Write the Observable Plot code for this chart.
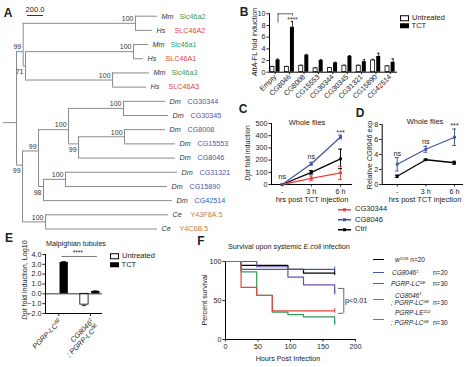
<!DOCTYPE html>
<html><head><meta charset="utf-8">
<script src="https://cdn.jsdelivr.net/npm/d3@7"></script>
<script src="https://cdn.jsdelivr.net/npm/@observablehq/plot@0.6"></script>
<style>
body{margin:0;background:#fff;}
#fig{position:relative;width:474px;height:367px;overflow:hidden;font-family:"Liberation Sans",Arial,Helvetica,sans-serif;color:#222;background:#fff;}
#fig sup{font-size:65%;vertical-align:0;position:relative;top:-0.5em;}
</style></head><body><div id="fig"></div>
<script>
// ---------------- DATA ----------------
// Panel A: phylogenetic tree
const leafGenes   = ["Slc46a2","SLC46A2","Slc46a1","SLC46A1","Slc46a3","SLC46A3","CG30344","CG30345","CG8008","CG15553","CG8046","CG31321","CG15890","CG42514","Y43F8A.5","Y4C6B.5"];
const leafSpecies = ["Mm","Hs","Mm","Hs","Mm","Hs","Dm","Dm","Dm","Dm","Dm","Dm","Dm","Dm","Ce","Ce"];
const leafParent  = ["A2","A2","A1","A1","A3","A3","P","P","Q","Q","R","T","T","U","X","X"];
const leafDepth   = [1900,1838,1788,1725,1800,1763,2000,2038,2000,2125,2125,2150,2025,2088,2038,1900];
const nodeIds     = ["root","SLC","A2","A13","A1","A3","W","V","S","P","R","Q","U","T","X"];
const nodeParent  = [null,"root","SLC","SLC","A13","A13","root","W","V","S","S","R","V","U","W"];
const nodeDepth   = [138,221,1625,250,1600,1338,213,413,788,1475,913,1488,475,750,500];
const nodeBoot    = ["","99","100","71","100","100","99","99","100","100","99","100","98","100","100"];
const bootBelow   = ["A13","R","U","W"];
const scaleBarLength = 200;

// Panel B
const bGroups = ["Empty","CG8046","CG8008","CG15553","CG30344","CG30345","CG31321","CG15890","CG42514"];
const bUntreated    = [0.9,0.9,1.1,0.65,0.7,1.1,1.1,2.0,1.0];
const bUntreatedErr = [0.1,0.1,0.1,0.1,0.1,0.1,0.1,0.2,0.1];
const bTCT          = [2.1,7.7,2.9,2.0,1.6,2.7,1.8,2.7,1.7];
const bTCTErr       = [0.15,1.0,0.15,0.15,0.1,0.15,0.35,0.55,0.6];

// Panel C
const cTimes = [0,3,6];
const cTimeLabels = ["-","3 h","6 h"];
const cCG30344 = [0,50,95],   cCG30344Err = [0,20,55];
const cCG8046  = [0,170,390], cCG8046Err  = [0,12,15];
const cCtrl    = [0,100,210], cCtrlErr    = [0,15,80];
const cSig = ["ns","ns","***"], cSigLevel = [62,232,422];

// Panel D
const dCG8046 = [2.7,4.7,6.3], dCG8046Err = [0.9,0.4,1.1];
const dCtrl   = [1.1,3.3,2.9], dCtrlErr   = [0.15,0.08,0.2];
const dSig = ["ns","ns","***"], dSigLevel = [4.1,5.7,7.9];

// Panel E
const eGroups = ["PGRP-LC{ΔE}","CG8046{1}\n; PGRP-LC{ΔE}"];
const eUntreated = [0.0,-1.1], eUntreatedErr = [0,0.1];
const eTCT = [3.2,0.25], eTCTErr = [0.08,0.05];

// Panel F
const fHoursW1118 = [0,24,96,120,168],        fSurvW1118 = [100,95,90,85,85];
const fHoursCG8046 = [0,24,168],              fSurvCG8046 = [100,90,90];
const fHoursLC = [0,48,96,120,168],           fSurvLC = [100,93.3,80,70,60];
const fHoursDouble = [0,24,48,72,168],        fSurvDouble = [100,66.7,56.7,36.7,36.7];
const fHoursLE = [0,24,48,72,96,120,168],     fSurvLE = [100,86.7,56.7,35,32,29,21];

// ---------------- HELPERS ----------------
const FONT = '"Liberation Sans", Arial, Helvetica, sans-serif';
const fig = document.getElementById("fig");
const BLUE = "#4357a8", RED = "#e8453c", GREEN = "#2f9e5f", PURPLE = "#6a50a6", ORANGE = "#c97b3c";
function mk(opts, left, top) {
  const svg = Plot.plot({...opts, style: {fontFamily: FONT, fontSize: "7.2px", background: "transparent", color: "#222", overflow: "visible"}});
  svg.style.position = "absolute"; svg.style.left = left + "px"; svg.style.top = top + "px";
  svg.style.maxWidth = "none";
  fig.appendChild(svg);
  supify(svg);
  return svg;
}
function txt(h, x, y, o = {}) {
  const {size = 7.2, anchor = "start", rotate = 0, weight = "normal", extra = ""} = o;
  const d = document.createElement("div");
  d.innerHTML = h;
  d.style.cssText = `position:absolute;left:${x}px;top:${y}px;font-size:${size}px;line-height:1;white-space:nowrap;font-weight:${weight};${extra}`;
  const tx = anchor === "start" ? "0" : anchor === "middle" ? "-50%" : "-100%";
  d.style.transform = `translate(${tx},-50%)` + (rotate ? ` rotate(${rotate}deg)` : "");
  fig.appendChild(d);
  return d;
}
function supify(root) {
  root.querySelectorAll("text, tspan").forEach(el => {
    if (el.children.length) return;
    const s = el.textContent;
    if (!s.includes("{")) return;
    el.textContent = "";
    s.split(/(\{[^}]*\})/).forEach(part => {
      if (!part) return;
      if (part[0] === "{") {
        const t = document.createElementNS("http://www.w3.org/2000/svg", "tspan");
        t.setAttribute("baseline-shift", "super");
        t.setAttribute("font-size", "70%");
        t.textContent = part.slice(1, -1);
        el.appendChild(t);
      } else el.appendChild(document.createTextNode(part));
    });
  });
}

// ---------------- PANEL A ----------------
{
  const nodes = new Map(nodeIds.map((id, k) => [id, {id, parent: nodeParent[k], depth: nodeDepth[k], boot: nodeBoot[k], kids: []}]));
  const leaves = leafGenes.map((g, i) => ({gene: g, sp: leafSpecies[i], depth: leafDepth[i], i, leaf: true}));
  leaves.forEach((l, i) => nodes.get(leafParent[i]).kids.push(l));
  nodeIds.forEach(id => { const n = nodes.get(id); if (n.parent) nodes.get(n.parent).kids.push(n); });
  function leafIdx(n) { return n.leaf ? [n.i] : n.kids.flatMap(leafIdx); }
  for (const n of nodes.values()) n.y = d3.mean(leafIdx(n));
  leaves.forEach(l => l.y = l.i);
  const hsegs = [], vsegs = [];
  for (const n of nodes.values()) {
    for (const c of n.kids) hsegs.push({x1: n.depth, x2: c.depth, y: c.y});
    vsegs.push({x: n.depth, y1: d3.min(n.kids, c => c.y), y2: d3.max(n.kids, c => c.y)});
  }
  const root = nodes.get("root");
  hsegs.push({x1: -25, x2: root.depth, y: root.y});
  const boots = [...nodes.values()].filter(n => n.boot);
  const colorOf = {Mm: GREEN, Hs: RED, Dm: BLUE, Ce: ORANGE};
  const xDomain = [-25, 2912.5], xRange = [3, 238];
  mk({
    width: 240, height: 240, margin: 0,
    x: {domain: xDomain, range: xRange, axis: null},
    y: {domain: [0, 15], range: [15.7, 228.5], axis: null},
    marks: [
      Plot.ruleY(hsegs, {x1: "x1", x2: "x2", y: "y", stroke: "#8a8a8a", strokeWidth: 1}),
      Plot.ruleX(vsegs, {x: "x", y1: "y1", y2: "y2", stroke: "#8a8a8a", strokeWidth: 1}),
      Plot.text(leaves, {x: "depth", y: "y", text: "sp", dx: 4, textAnchor: "start", fontStyle: "italic", fill: "#333", fontSize: 7.2}),
      ...Object.keys(colorOf).map(sp => Plot.text(leaves.filter(l => l.sp === sp), {x: "depth", y: "y", text: "gene", dx: 22, textAnchor: "start", fill: colorOf[sp], fontSize: 7.2})),
      Plot.text(boots.filter(n => !bootBelow.includes(n.id)), {x: "depth", y: "y", text: "boot", dx: -2, dy: -4.5, textAnchor: "end", fill: "#333", fontSize: 7}),
      Plot.text(boots.filter(n => bootBelow.includes(n.id)), {x: "depth", y: "y", text: "boot", dx: -2, dy: 6, textAnchor: "end", fill: "#333", fontSize: 7})
    ]
  }, 0, 0);
  const pxPerUnit = (xRange[1] - xRange[0]) / (xDomain[1] - xDomain[0]);
  const barLen = scaleBarLength * pxPerUnit;
  txt(scaleBarLength.toFixed(1), 35, 9.5, {size: 7.5, anchor: "middle"});
  const bar = document.createElement("div");
  bar.style.cssText = `position:absolute;left:${35 - barLen / 2}px;top:15px;width:${barLen}px;height:0;border-top:1px solid #333;`;
  fig.appendChild(bar);
}

// ---------------- PANEL B ----------------
{
  const data = bGroups.flatMap((g, i) => [
    {i, t: "U", v: bUntreated[i], e: bUntreatedErr[i], c: i - 0.194},
    {i, t: "T", v: bTCT[i], e: bTCTErr[i], c: i + 0.194}
  ]);
  const hw = 0.139;
  mk({
    width: 234, height: 100, marginLeft: 29, marginRight: 77, marginTop: 13.3, marginBottom: 28.3,
    x: {domain: [-0.4, 8.5], ticks: d3.range(bGroups.length), tickFormat: i => bGroups[i], tickRotate: -45, tickSize: 2.5, tickPadding: 1, label: null},
    y: {domain: [0, 10], ticks: [0, 2, 4, 6, 8, 10], tickSize: 2.5, tickPadding: 1.5, label: null},
    marks: [
      Plot.ruleX(data, {x: "c", y1: "v", y2: d => d.v + d.e, stroke: "#000", strokeWidth: 0.8}),
      Plot.ruleY(data, {y: d => d.v + d.e, x1: d => d.c - 0.08, x2: d => d.c + 0.08, stroke: "#000", strokeWidth: 0.8}),
      Plot.rectY(data.filter(d => d.t === "U"), {x1: d => d.c - hw, x2: d => d.c + hw, y1: 0, y2: "v", fill: "white", stroke: "#000", strokeWidth: 0.8}),
      Plot.rectY(data.filter(d => d.t === "T"), {x1: d => d.c - hw, x2: d => d.c + hw, y1: 0, y2: "v", fill: "#000"}),
      Plot.ruleY([0], {stroke: "#000"}),
      Plot.ruleX([-0.4], {y1: 0, y2: 10, stroke: "#000"}),
      // significance bracket Empty vs CG8046
      Plot.ruleY([10], {x1: 0.194, x2: 1.194, stroke: "#222", strokeWidth: 0.7}),
      Plot.ruleX([0.194], {y1: 8.4, y2: 10, stroke: "#222", strokeWidth: 0.7}),
      Plot.ruleX([1.194], {y1: 9.6, y2: 10, stroke: "#222", strokeWidth: 0.7}),
      Plot.text(["****"], {x: 1.194, y: 9.0, text: d => d, fontSize: 6.5})
    ]
  }, 240, 0);
  txt("<i>AttA</i>-FL fold induction", 255, 42, {anchor: "middle", rotate: -90, size: 7.2});
  txt(`<span style="display:inline-block;width:7px;height:4px;border:0.8px solid #000;background:#fff;vertical-align:middle;margin-right:3px"></span>Untreated`, 400, 17.5, {size: 7.5});
  txt(`<span style="display:inline-block;width:8.6px;height:5.6px;background:#000;vertical-align:middle;margin-right:3px"></span>TCT`, 400, 25.5, {size: 7.5});
}

// ---------------- PANEL C ----------------
function timeCourse(series, {domain, yDomain, yTicks, sig, sigLevel, margins, left, top, width}) {
  const rows = series.flatMap(s => cTimes.map((t, k) => ({name: s.name, color: s.color, t, v: s.v[k], e: s.e[k]})));
  return mk({
    width, height: 100, ...margins,
    x: {domain, ticks: cTimes, tickFormat: t => cTimeLabels[cTimes.indexOf(t)], tickSize: 2.5, tickPadding: 2, label: null},
    y: {domain: yDomain, ticks: yTicks, tickSize: 2.5, tickPadding: 1.5, label: null},
    marks: [
      Plot.ruleY([yDomain[0]], {stroke: "#000"}),
      Plot.ruleX([domain[0]], {y1: yDomain[0], y2: yDomain[1], stroke: "#000"}),
      ...series.map(s => Plot.ruleX(rows.filter(r => r.name === s.name && r.e > 0), {x: "t", y1: d => d.v - d.e, y2: d => d.v + d.e, stroke: s.color, strokeWidth: 1})),
      ...series.map(s => Plot.ruleY(rows.filter(r => r.name === s.name && r.e > 0), {y: d => d.v + d.e, x1: d => d.t - 0.2, x2: d => d.t + 0.2, stroke: s.color, strokeWidth: 1})),
      ...series.map(s => Plot.ruleY(rows.filter(r => r.name === s.name && r.e > 0), {y: d => d.v - d.e, x1: d => d.t - 0.2, x2: d => d.t + 0.2, stroke: s.color, strokeWidth: 1})),
      ...series.map(s => Plot.line(rows.filter(r => r.name === s.name), {x: "t", y: "v", stroke: s.color, strokeWidth: 1.3})),
      ...series.map(s => Plot.dot(rows.filter(r => r.name === s.name), {x: "t", y: "v", fill: s.color, r: 1.6, symbol: "square"})),
      Plot.text(cTimes, {x: d => d, y: (d, k) => sigLevel[k], text: (d, k) => sig[k], fontSize: 7.2, fill: "#222"})
    ]
  }, left, top);
}
timeCourse([
  {name: "Ctrl", color: "#000", v: cCtrl, e: cCtrlErr},
  {name: "CG30344", color: RED, v: cCG30344, e: cCG30344Err},
  {name: "CG8046", color: BLUE, v: cCG8046, e: cCG8046Err}
], {domain: [-1.1, 7.23], yDomain: [0, 500], yTicks: [0, 100, 200, 300, 400, 500], sig: cSig, sigLevel: cSigLevel,
    margins: {marginLeft: 31, marginRight: 8, marginTop: 23, marginBottom: 16}, left: 240, top: 100, width: 120});
txt("Whole flies", 307, 123, {anchor: "middle", size: 7.5});
txt("<i>Dpt</i> fold induction", 248, 153, {anchor: "middle", rotate: -90, size: 7.2});
txt("hrs post TCT injection", 312, 200, {anchor: "middle", size: 7.5});
// legend C
[["CG30344", RED, 209.3], ["CG8046", BLUE, 219.7], ["Ctrl", "#000", 229.3]].forEach(([name, col, y]) => {
  txt(`<svg width="13" height="5" style="vertical-align:middle;margin-right:4px"><line x1="0" x2="13" y1="2.5" y2="2.5" stroke="${col}" stroke-width="1.3"/><rect x="5" y="1" width="3" height="3" fill="${col}"/></svg>${name}`, 338, y, {size: 7.5});
});

// ---------------- PANEL D ----------------
timeCourse([
  {name: "Ctrl", color: "#000", v: dCtrl, e: dCtrlErr},
  {name: "CG8046", color: BLUE, v: dCG8046, e: dCG8046Err}
], {domain: [-1.57, 6.94], yDomain: [0, 8], yTicks: [0, 2, 4, 6, 8], sig: dSig, sigLevel: dSigLevel,
    margins: {marginLeft: 31.7, marginRight: 11, marginTop: 24, marginBottom: 16}, left: 350, top: 100, width: 124});
txt("Whole flies", 425, 122, {anchor: "middle", size: 7.5});
txt("Relative <i>CG8046</i> exp", 370, 155, {anchor: "middle", rotate: -90, size: 7.2});
txt("hrs post TCT injection", 425, 200, {anchor: "middle", size: 7.5});

// ---------------- PANEL E ----------------
{
  const data = eGroups.flatMap((g, i) => [
    {i, t: "U", v: eUntreated[i], e: eUntreatedErr[i], c: i - 0.19},
    {i, t: "T", v: eTCT[i], e: eTCTErr[i], c: i + 0.17}
  ]);
  const hw = 0.131;
  mk({
    width: 150, height: 127, marginLeft: 45, marginRight: 48, marginTop: 14, marginBottom: 54,
    x: {domain: [-0.42, 1.38], ticks: [0, 1], tickFormat: () => "", tickSize: 3, label: null},
    y: {domain: [-2, 4], ticks: [-2, -1, 0, 1, 2, 3, 4], tickSize: 2.5, tickPadding: 1.5, label: null},
    marks: [
      Plot.ruleX(data.filter(d => d.e > 0), {x: "c", y1: "v", y2: d => d.v + Math.sign(d.v) * d.e, stroke: "#000", strokeWidth: 0.8}),
      Plot.ruleY(data.filter(d => d.e > 0), {y: d => d.v + Math.sign(d.v) * d.e, x1: d => d.c - 0.07, x2: d => d.c + 0.07, stroke: "#000", strokeWidth: 0.8}),
      Plot.rectY(data.filter(d => d.t === "U"), {x1: d => d.c - hw, x2: d => d.c + hw, y1: 0, y2: "v", fill: "white", stroke: "#000", strokeWidth: 0.8}),
      Plot.rectY(data.filter(d => d.t === "T"), {x1: d => d.c - hw, x2: d => d.c + hw, y1: 0, y2: "v", fill: "#000"}),
      Plot.ruleY([0], {stroke: "#000", strokeWidth: 0.8}),
      Plot.ruleY([-2], {stroke: "#000"}),
      Plot.ruleX([-0.42], {y1: -2, y2: 4, stroke: "#000"}),
      Plot.ruleY([3.8], {x1: 0.1, x2: 1.22, stroke: "#555", strokeWidth: 0.8}),
      Plot.text(["****"], {x: 0.6, y: 4.15, text: d => d, fontSize: 6.5}),
      Plot.text(eGroups, {x: (d, i) => i, y: -2, text: d => d, dy: 4.5, rotate: -45, textAnchor: "end", lineAnchor: "top", fontStyle: "italic", fontSize: 7.2, lineHeight: 1.05})
    ]
  }, 0, 240);
  txt("Malpighian tubules", 76, 244, {anchor: "middle", size: 7.2});
  txt("<i>Dpt</i> fold induction, Log10", 25, 280, {anchor: "middle", rotate: -90, size: 7.2});
  txt(`<span style="display:inline-block;width:7px;height:4px;border:0.8px solid #000;background:#fff;vertical-align:middle;margin-right:3px"></span>Untreated`, 110, 255.5, {size: 7.5});
  txt(`<span style="display:inline-block;width:8.6px;height:5.6px;background:#000;vertical-align:middle;margin-right:3px"></span>TCT`, 110, 264.5, {size: 7.5});
}

// ---------------- PANEL F ----------------
{
  const series = [
    {name: "w1118", color: "#000", h: fHoursW1118, s: fSurvW1118},
    {name: "CG8046", color: BLUE, h: fHoursCG8046, s: fSurvCG8046},
    {name: "LC", color: PURPLE, h: fHoursLC, s: fSurvLC},
    {name: "LE;LC", color: GREEN, h: fHoursLE, s: fSurvLE},
    {name: "CG8046;LC", color: RED, h: fHoursDouble, s: fSurvDouble}
  ];
  const rows = s => s.h.map((h, k) => ({h, s: s.s[k]}));
  const ends = series.map(s => ({color: s.color, h: s.h[s.h.length - 1], s: s.s[s.s.length - 1]}));
  mk({
    width: 220, height: 117, marginLeft: 75, marginRight: 15, marginTop: 11, marginBottom: 28,
    x: {domain: [0, 200], ticks: [0, 50, 100, 150, 200], tickSize: 2.5, tickPadding: 2, label: null},
    y: {domain: [0, 100], ticks: [0, 50, 100], tickSize: 2.5, tickPadding: 1.5, label: null},
    marks: [
      Plot.ruleY([0], {stroke: "#000"}),
      Plot.ruleX([0], {y1: 0, y2: 100, stroke: "#000"}),
      ...series.map(s => Plot.line(rows(s), {x: "h", y: "s", stroke: s.color, strokeWidth: 1.2, curve: "step-after"})),
      ...ends.map(e => Plot.ruleX([e], {x: "h", y1: d => d.s - 3, y2: d => d.s + 3, stroke: e.color, strokeWidth: 1})),
      Plot.ruleY([65.5, 33.6], {x1: 174, x2: 182, stroke: "#222", strokeWidth: 0.7}),
      Plot.ruleX([182], {y1: 33.6, y2: 65.5, stroke: "#222", strokeWidth: 0.7}),
      Plot.text(["p<0.01"], {x: 184, y: 50, text: d => d, textAnchor: "start", fontSize: 7.2})
    ]
  }, 150, 250);
  txt("Survival upon systemic <i>E.coli</i> infection", 228, 247, {size: 7.2});
  txt("Percent survival", 205, 300, {anchor: "middle", rotate: -90, size: 7.2});
  txt("Hours Post Infection", 288, 359, {anchor: "middle", size: 7.2});
  // legend F
  const LS = 6.5;
  const leg = [
    ["#000", 260, [["<i>w</i><sup>1118</sup> n=20", 395, 260]]],
    [BLUE, 272.7, [["<i>CG8046<sup>1</sup></i>", 392, 272.7], ["n=20", 433, 272.7]]],
    [PURPLE, 284, [["<i>PGRP-LC<sup>ΔE</sup></i>", 391, 284], ["n=30", 433, 284]]],
    [RED, 299.3, [["<i>CG8046<sup>1</sup></i>", 395, 295.5], ["<i>; PGRP-LC<sup>ΔE</sup></i>", 391, 303.3], ["n=30", 433, 303.3]]],
    [GREEN, 320, [["<i>PGRP-LE<sup>112</sup></i>", 395, 313.3], ["<i>; PGRP-LC<sup>ΔE</sup></i>", 391, 323.3], ["n=30", 433, 323.3]]]
  ];
  leg.forEach(([col, ly, items]) => {
    const l = document.createElement("div");
    l.style.cssText = `position:absolute;left:373px;top:${ly - 0.6}px;width:11px;height:0;border-top:1.3px solid ${col};`;
    fig.appendChild(l);
    items.forEach(([h, x, y]) => txt(h, x, y, {size: LS}));
  });
}

// ---------------- PANEL LETTERS ----------------
[["A", 8, 12.5], ["B", 244, 12], ["C", 243, 109], ["D", 360, 113], ["E", 9, 238], ["F", 201, 240.5]].forEach(([l, x, y]) =>
  txt(l, x, y, {anchor: "middle", size: 12, weight: "bold"}));
</script></body></html>
